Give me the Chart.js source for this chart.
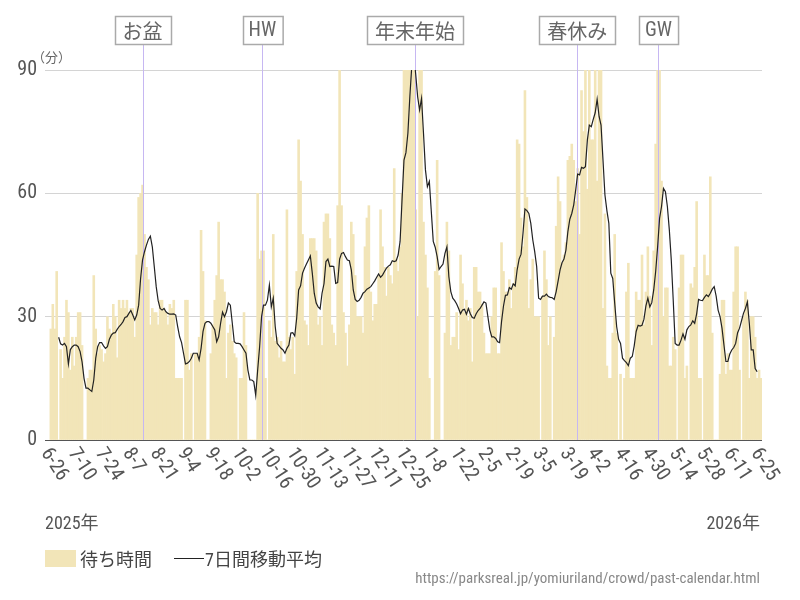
<!DOCTYPE html>
<html><head><meta charset="utf-8">
<script src="https://cdn.jsdelivr.net/npm/chart.js@4/dist/chart.umd.min.js"></script>
<style>
html,body{margin:0;padding:0;background:#fff;}
#wrap{position:relative;width:800px;height:600px;overflow:hidden;}
#c{position:absolute;left:0;top:0;}
.cond{font-family:"Roboto Condensed","Liberation Sans Narrow","DejaVu Sans Condensed","Arial Narrow","Noto Sans CJK JP",sans-serif;}
.legend{position:absolute;left:45px;top:545px;font-size:18px;color:#444;display:flex;align-items:center;white-space:nowrap;font-family:"Roboto Condensed","Liberation Sans Narrow","Noto Sans CJK JP",sans-serif;}
.legend .sw{display:inline-block;width:31px;height:17px;background:#f2e5b8;margin-right:4px;}
.legend .ln{display:inline-block;width:30px;height:0;border-top:1.6px solid #222;margin:0 1px 0 22px;}
.yr{position:absolute;top:508px;font-size:18px;color:#555;}
.src{position:absolute;right:40px;top:569px;font-size:15px;color:#888;white-space:nowrap;}
</style></head><body>
<div id="wrap">
<canvas id="c" width="800" height="600"></canvas>
<div class="yr cond" style="left:45px;">2025年</div>
<div class="yr cond" style="right:40px;">2026年</div>
<div class="legend"><span class="sw"></span><span>待ち時間</span><span class="ln"></span><span>7日間移動平均</span></div>
<div class="src cond">https://parksreal.jp/yomiuriland/crowd/past-calendar.html</div>
</div>
<script>
// ---- data ----
const startDate = '2025-06-26';
const tickDays = [0,14,28,42,56,70,84,98,112,126,140,154,168,182,196,210,224,238,252,266,280,294,308,322,336,350,364];
const tickLabels = ['6-26','7-10','7-24','8-7','8-21','9-4','9-18','10-2','10-16','10-30','11-13','11-27','12-11','12-25','1-8','1-22','2-5','2-19','3-5','3-19','4-2','4-16','4-30','5-14','5-28','6-11','6-25'];
const yTicks = [0,30,60,90];
const eventNames = ['お盆','HW','年末年始','春休み','GW'];
const eventDays = [47,108.4,186.6,269.8,311.4];

// daily waiting time (min), day 0 = 2025-06-26
const waitTimes = [
27,33,27,41,0,22,15,25,34,31,
17,25,18,25,31,31,23,0,0,15,
17,17,40,27,21,23,22,19,21,30,
27,26,33,30,20,34,32,34,32,34,
31,32,32,25,45,59,60,62,50,42,
39,28,32,31,31,28,34,34,32,31,
28,33,32,34,15,15,15,15,0,34,
34,17,21,0,21,21,25,51,41,29,
0,0,21,28,34,40,53,39,39,36,
15,26,28,24,21,20,0,15,15,31,
23,0,0,0,0,0,60,44,46,46,
15,0,29,25,50,24,25,20,24,19,
19,56,25,22,25,16,41,73,63,50,
29,28,23,49,49,49,46,28,30,23,
53,55,55,49,28,26,23,57,90,57,
31,26,18,28,53,50,40,30,30,30,
26,47,54,57,36,29,33,33,40,56,
47,42,35,42,40,38,66,44,41,47,
60,90,100,105,110,105,100,56,30,100,
120,53,45,37,15,0,0,41,68,40,
0,0,26,53,46,23,25,25,31,22,
45,38,31,34,29,32,19,42,42,36,
36,33,26,21,21,21,30,37,37,21,
21,48,41,36,36,39,32,38,42,73,
72,54,47,85,59,32,39,44,30,30,
30,0,35,46,39,23,30,0,25,52,
64,58,43,45,48,68,69,72,68,58,
66,50,85,75,90,61,100,73,73,100,
63,90,90,32,55,18,15,15,26,50,
26,0,16,0,15,36,43,15,15,15,
36,34,34,45,28,36,47,35,23,46,
72,90,100,63,30,37,37,18,18,25,
22,0,37,45,45,15,18,0,38,37,
42,58,15,15,0,45,40,40,64,26,
0,0,0,16,34,34,16,21,17,17,
36,47,47,17,0,30,36,34,15,30,
30,25,15,17,15
];

// 7-day moving average (null = not drawn)
const movingAvg = [
null,null,null,null,25,23.4,23.1,23.5,22.7,18.5,
22,22.7,23.1,23.1,22.7,21.5,19,15,12.6,12.6,
12.2,11.8,14.6,19.9,22.7,23.7,23.7,22.9,22.3,22.7,
24.5,25.5,26,26.1,26.9,27.6,28.1,28.8,29.8,30,
30.8,31.5,30.4,29.2,30.4,32.8,39.3,43.8,45.8,47.4,
48.8,49.6,47,42.2,37.3,33.9,32,31.6,32,31.2,
30.8,30.6,30.6,30.7,30.4,27.6,25.1,23.7,21.1,18.5,
18.7,19.1,19.9,21.1,21.1,21.1,19.5,22.3,26.4,28.4,
28.8,28.8,28.4,27.6,26.8,23.9,25.1,28.4,31.1,30,
31.2,33.3,32.8,28.4,23.9,23.5,23.5,23.4,22.7,21.9,
21.1,17,14.6,14.6,14.2,10.9,17,22.7,30,32.8,
32.8,34,37.7,32.4,34.5,27.6,23.5,22.9,22.3,21.9,
21.1,22.3,23.1,26,26.1,25.3,29.6,36.5,37.5,40.6,
41.8,42.8,43.8,44.8,40.6,35.7,33.3,32.4,31.9,35.7,
38,43.4,44,42.2,42.3,42.2,38.1,38.3,44,45.4,
45.6,44.6,43.8,43.6,41.4,36.5,34.2,33.7,34,34.7,
35.7,36.1,36.7,37,37.3,38,38.7,39.6,40.4,39.6,
40.1,41,41.8,42.3,42.6,43.6,43.4,43.6,45,48.3,
58.4,68.1,69.9,74.6,83.5,91,94,89,83.5,80.3,
83.1,74.6,65.7,61.6,62.9,55.6,48.3,46.9,44.6,41.5,
42.2,42.8,45.4,47,39.7,36.1,34.5,33.9,33.1,32,
30.7,31.6,31.8,30.6,32,30.7,29.8,29.6,30.7,31.5,
32,32.8,33.6,33.3,30,26.8,25.1,25.1,24.7,23.9,
23.7,28.8,32.6,35.2,35.3,37.1,36.7,38,37.5,41.4,
44,45.2,50.3,56.2,55.8,55.1,52.7,48.7,45.8,42.2,
34.5,34.2,35,35,35.5,34.9,34.7,34.6,34.2,36.1,
38.7,41.4,43.1,44,46.2,50.7,53.7,55.1,57.2,60.8,
64.7,64.5,66.3,66.1,66.5,73,76.6,76.2,78,79.6,
82.9,78.7,76.6,68.1,59.6,55.8,52.7,40.6,39.3,33.3,
27.6,24.5,23.5,19.9,19.3,18.8,18.1,19.9,20.3,22.9,
26.4,27.9,27.7,27.9,29.4,32.6,34.5,32.4,33.4,36.5,
41,47,53.9,56.8,61.2,60.4,56.8,51.1,43.8,34,
23.5,23.1,23.1,24.3,25.8,24.5,26.8,27.6,28,29,
28.4,30.7,34.2,34,33.9,34.7,35.3,34.9,35.7,36.7,
37.3,35,31.6,30,27.2,23.1,19.1,19.1,20.9,21.9,
22.5,23.5,26.1,27.2,29,30.8,32,33.6,28.4,21.9,
21.9,17.4,16.6,null,null
];

// ---- styling ----
const COND = '"Roboto Condensed","Liberation Sans Narrow","DejaVu Sans Condensed","Arial Narrow",Roboto,sans-serif';
const JP = '"Noto Sans CJK JP","Noto Sans",sans-serif';
const BAR = '#f2e5b8';
const EVT = '#c6b7f2';

const overlay = {
  id: 'overlay',
  afterDatasetDraw(chart, args) {
    if (chart.data.datasets[args.index].type !== 'bar') return;
    const ctx = chart.ctx, xs = chart.scales.x, bottom = chart.chartArea.bottom;
    ctx.save();
    ctx.strokeStyle = EVT; ctx.lineWidth = 1;
    eventDays.forEach(d => {
      const x = Math.round(xs.getPixelForValue(d)) + 0.5;
      ctx.beginPath(); ctx.moveTo(x, 45); ctx.lineTo(x, bottom); ctx.stroke();
    });
    ctx.restore();
  },
  afterDraw(chart) {
    const ctx = chart.ctx, xs = chart.scales.x, area = chart.chartArea;
    ctx.save();
    eventNames.forEach((name, i) => {
      const x = xs.getPixelForValue(eventDays[i]);
      const latin = /^[A-Za-z]+$/.test(name);
      ctx.font = latin ? '20px ' + COND : '20px ' + JP;
      const w = ctx.measureText(name).width + (latin ? 12 : 16);
      const left = Math.round(x - w / 2) + 0.5;
      ctx.fillStyle = '#fff';
      ctx.fillRect(left, 16.5, w, 28);
      ctx.strokeStyle = '#aaa'; ctx.lineWidth = 1.5;
      ctx.strokeRect(left, 16.5, w, 28);
      ctx.fillStyle = '#666'; ctx.textAlign = 'center'; ctx.textBaseline = 'middle';
      ctx.fillText(name, x, 31);
    });
    ctx.fillStyle = '#555';
    ctx.font = '20px ' + COND;
    ctx.textAlign = 'left'; ctx.textBaseline = 'middle';
    const ang = 57 * Math.PI / 180;
    tickDays.forEach((d, i) => {
      const x = xs.getPixelForValue(d);
      ctx.save();
      ctx.translate(x - 6, area.bottom + 10);
      ctx.rotate(ang);
      ctx.fillText(tickLabels[i], 0, 0);
      ctx.restore();
    });
    ctx.font = '13px ' + JP;
    ctx.fillStyle = '#666'; ctx.textAlign = 'left'; ctx.textBaseline = 'middle';
    ctx.fillText('（分）', 32, 57);
    ctx.restore();
  }
};

new Chart(document.getElementById('c'), {
  data: {
    datasets: [
      {
        type: 'line', label: '7日間移動平均', order: 0,
        data: movingAvg.map((v, i) => ({x: i, y: v})),
        borderColor: '#222', borderWidth: 1.2, pointRadius: 0, tension: 0, spanGaps: false
      },
      {
        type: 'bar', label: '待ち時間', order: 1,
        data: waitTimes.map((v, i) => ({x: i, y: v})),
        backgroundColor: BAR, borderWidth: 0,
        barPercentage: 1.0, categoryPercentage: 1.0
      }
    ]
  },
  options: {
    responsive: false, animation: false, devicePixelRatio: 1, events: [],
    layout: {padding: {top: 70, right: 38, bottom: 160, left: 0}},
    plugins: {legend: {display: false}, tooltip: {enabled: false}},
    scales: {
      x: {type: 'linear', min: -3, max: 364.5, offset: false, display: false},
      y: {
        min: 0, max: 90,
        afterBuildTicks: (s) => { s.ticks = yTicks.map(v => ({value: v})); },
        afterFit: (s) => { s.width = 45; },
        ticks: {font: {family: COND, size: 20}, color: '#555', padding: 8},
        grid: {
          color: (c) => c.tick && c.tick.value === 0 ? '#555' : '#d4d4d4',
          lineWidth: 1, drawTicks: false
        },
        border: {display: false}
      }
    }
  },
  plugins: [overlay]
});
</script>
</body></html>
